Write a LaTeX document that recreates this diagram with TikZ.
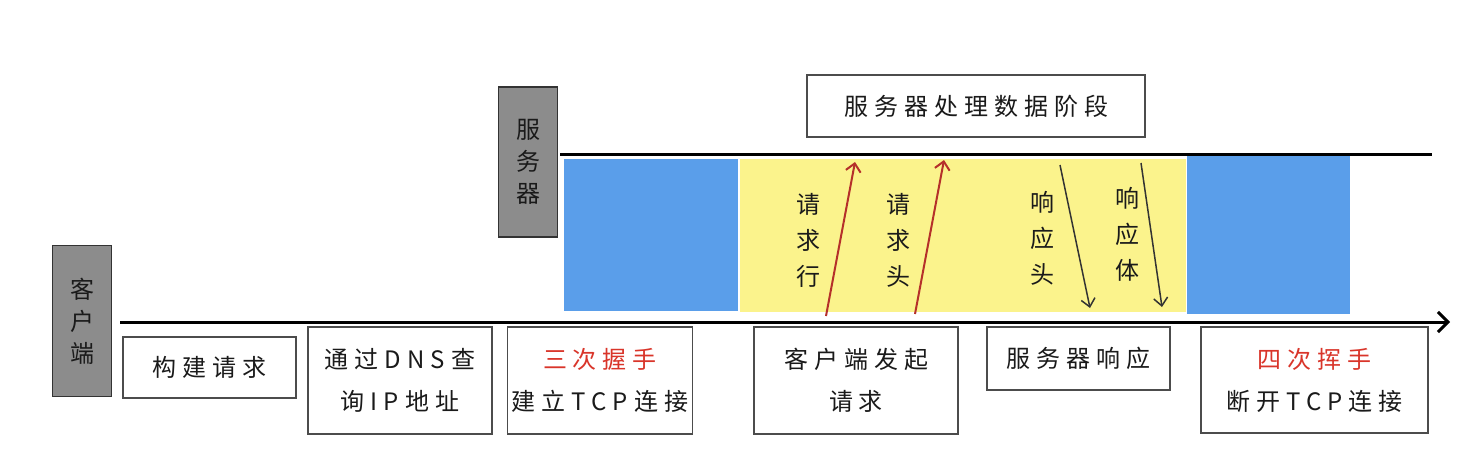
\documentclass[tikz,border=0pt]{standalone}
\usepackage{fontspec}
\setmainfont{Noto Sans CJK SC}
\newfontfamily\spaced{Noto Sans CJK SC}[LetterSpace=25]
\usetikzlibrary{arrows.meta}
\definecolor{blueblk}{HTML}{5A9EEA}
\definecolor{yel}{HTML}{FBF38C}
\definecolor{lblgray}{HTML}{8C8C8C}
\definecolor{redtxt}{HTML}{D9352A}
\definecolor{redarr}{HTML}{B5302A}
\definecolor{ink}{HTML}{1A1A1A}
\begin{document}
\begin{tikzpicture}[x=1pt,y=-1pt,
  textbox/.style={draw=black!70, line width=1.1pt, fill=white, inner sep=0pt, align=center,
    text=ink, font=\fontsize{24}{42}\selectfont\spaced},
  lblbox/.style={draw=black!80, fill=lblgray, line width=1.1pt, inner sep=0pt, align=center,
    text=ink, font=\fontsize{24}{32}\selectfont},
  vlabel/.style={align=center, inner sep=0pt, text=ink, font=\fontsize{24}{36}\selectfont},
  timeline/.style={line width=3pt, black},
  reqarrow/.style={line width=2pt, redarr, -{Straight Barb[length=8pt,width=15pt,line width=2pt]}},
  resarrow/.style={line width=1.5pt, black!80, -{Straight Barb[length=8pt,width=14pt,line width=1.5pt]}},
]
\useasboundingbox (0,0) rectangle (1484,458);

% phase blocks
\fill[blueblk] (564,159) rectangle (738,311);
\fill[yel] (740,159) rectangle (1186,312);
\fill[blueblk] (1187,155) rectangle (1350,314);

% timelines
\coordinate (cstart) at (120,322);
\coordinate (cend) at (1450,322);
\coordinate (sstart) at (560,154);
\coordinate (send) at (1432,154);
\draw[timeline, -{Straight Barb[length=10pt,width=20pt,line width=3pt]}] (cstart) -- (cend);
\draw[timeline] (sstart) -- (send);

% side labels
\node[lblbox, minimum width=59pt, minimum height=151pt] (client) at (82,321) {客\\户\\端};
\node[lblbox, minimum width=59pt, minimum height=150pt] (server) at (528,162) {服\\务\\器};

% top label
\node[textbox, minimum width=338pt, minimum height=62pt] (proc) at (976,106) {服务器处理数据阶段};

% request / response arrows
\coordinate (r1a) at (826,316); \coordinate (r1b) at (855,162);
\coordinate (r2a) at (915,314); \coordinate (r2b) at (944,160);
\coordinate (s1a) at (1060,165); \coordinate (s1b) at (1090,308);
\coordinate (s2a) at (1141,163); \coordinate (s2b) at (1162,307);
\draw[reqarrow] (r1a) -- (r1b);
\draw[reqarrow] (r2a) -- (r2b);
\draw[resarrow] (s1a) -- (s1b);
\draw[resarrow] (s2a) -- (s2b);

\node[vlabel] (reqline) at (808,240) {请\\求\\行};
\node[vlabel] (reqhead) at (898,240) {请\\求\\头};
\node[vlabel] (reshead) at (1042,238) {响\\应\\头};
\node[vlabel] (resbody) at (1127,234) {响\\应\\体};

% stage boxes
\node[textbox, minimum width=173pt, minimum height=61pt] (b1) at (209.5,367.5) {构建请求};
\node[textbox, minimum width=184pt, minimum height=107pt] (b2) at (400,380.5) {通过DNS查\\询IP地址};
\node[textbox, minimum width=185pt, minimum height=107pt] (b3) at (600,380.5) {\textcolor{redtxt}{三次握手}\\建立TCP连接};
\node[textbox, minimum width=204pt, minimum height=107pt] (b4) at (856,380.5) {客户端发起\\请求};
\node[textbox, minimum width=183pt, minimum height=63pt] (b5) at (1078.5,358.5) {服务器响应};
\node[textbox, minimum width=227pt, minimum height=106pt] (b6) at (1314.5,380) {\textcolor{redtxt}{四次挥手}\\断开TCP连接};
\end{tikzpicture}
\end{document}
